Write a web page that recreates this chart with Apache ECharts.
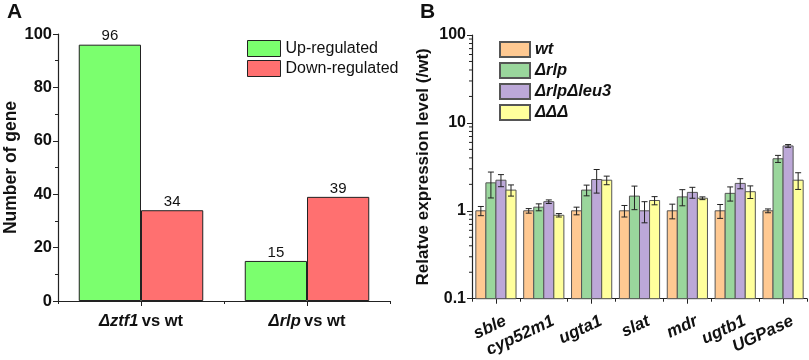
<!DOCTYPE html>
<html>
<head>
<meta charset="utf-8">
<script src="https://cdn.jsdelivr.net/npm/echarts@6/dist/echarts.min.js"></script>
<style>
  html, body { margin: 0; padding: 0; background: #fff; }
  #main { width: 809px; height: 360px; }
</style>
</head>
<body>
<div id="main"></div>
<script>
// panel A
var compA = ['Δztf1', 'Δrlp'];
var upA = [96, 15];
var downA = [34, 39];

// panel B
var genes = ['sble', 'cyp52m1', 'ugta1', 'slat', 'mdr', 'ugtb1', 'UGPase'];
var strainNames = ['wt', 'Δrlp', 'ΔrlpΔleu3', 'ΔΔΔ'];
var wtVal = [1.00, 1.00, 1.00, 1.00, 1.00, 1.00, 1.00];
var wtErr = [0.12, 0.06, 0.10, 0.15, 0.19, 0.18, 0.05];
var rlpVal = [2.08, 1.10, 1.72, 1.47, 1.44, 1.58, 3.91];
var rlpErr = [0.68, 0.10, 0.24, 0.44, 0.30, 0.29, 0.36];
var leuVal = [2.23, 1.27, 2.27, 1.00, 1.62, 2.05, 5.47];
var leuErr = [0.35, 0.06, 0.68, 0.27, 0.23, 0.27, 0.20];
var tripVal = [1.72, 0.89, 2.23, 1.31, 1.39, 1.65, 2.23];
var tripErr = [0.25, 0.04, 0.25, 0.14, 0.05, 0.27, 0.48];
var logMinor = [0.2, 0.3, 0.4, 0.5, 0.6, 0.7, 0.8, 0.9, 2, 3, 4, 5, 6, 7, 8, 9, 20, 30, 40, 50, 60, 70, 80, 90];

var FONT = '"Liberation Sans", Arial, sans-serif';
var colorsB = ['#ffc992', '#9ad69c', '#bca8d8', '#ffff9c'];
var valsB = [wtVal, rlpVal, leuVal, tripVal];
var errsB = [wtErr, rlpErr, leuErr, tripErr];
var gapB = 0.16;
var logBase = 0.1;

var myChart = echarts.init(document.getElementById('main'));

// offset of bar idx inside a category band (4 bars, no gap between them)
function barGeom(api, v, idx) {
    var band = api.coord([1, v])[0] - api.coord([0, v])[0];
    var bw = band * (1 - gapB) / 4;
    var off = -band * (1 - gapB) / 2 + bw * (idx + 0.5);
    return { bw: bw, off: off };
}

function barSeries(idx) {
    var data = [];
    for (var i = 0; i < genes.length; i++) {
        data.push([i, valsB[idx][i]]);
    }
    return {
        name: strainNames[idx],
        type: 'custom',
        xAxisIndex: 2,
        yAxisIndex: 1,
        z: 3,
        data: data,
        itemStyle: { color: colorsB[idx], borderColor: '#555', borderWidth: 1 },
        renderItem: function(params, api) {
            var c = api.value(0), v = api.value(1);
            var g = barGeom(api, v, idx);
            var top = api.coord([c, v]);
            var bot = api.coord([c, logBase]);
            return {
                type: 'rect',
                shape: { x: top[0] + g.off - g.bw / 2, y: top[1], width: g.bw, height: bot[1] - top[1] },
                style: { fill: colorsB[idx], stroke: '#555', lineWidth: 1 }
            };
        }
    };
}

function errorSeries(idx) {
    var data = [];
    for (var i = 0; i < genes.length; i++) {
        data.push([i, valsB[idx][i], errsB[idx][i]]);
    }
    return {
        type: 'custom',
        xAxisIndex: 2,
        yAxisIndex: 1,
        z: 5,
        silent: true,
        data: data,
        renderItem: function(params, api) {
            var c = api.value(0), v = api.value(1), e = api.value(2);
            var g = barGeom(api, v, idx);
            var hi = api.coord([c, v + e]);
            var lo = api.coord([c, v - e]);
            var x = hi[0] + g.off;
            var cap = 3;
            var st = { stroke: '#222', lineWidth: 1 };
            return {
                type: 'group',
                children: [
                    { type: 'line', shape: { x1: x, y1: hi[1], x2: x, y2: lo[1] }, style: st },
                    { type: 'line', shape: { x1: x - cap, y1: hi[1], x2: x + cap, y2: hi[1] }, style: st },
                    { type: 'line', shape: { x1: x - cap, y1: lo[1], x2: x + cap, y2: lo[1] }, style: st }
                ]
            };
        }
    };
}

var seriesList = [
    {
        name: 'Up-regulated',
        type: 'bar',
        xAxisIndex: 0,
        yAxisIndex: 0,
        data: upA,
        barGap: 0,
        barCategoryGap: '25%',
        itemStyle: { color: '#7bff6e', borderColor: '#222', borderWidth: 1 },
        label: { show: true, position: 'top', distance: 1, color: '#111', fontSize: 15, fontFamily: FONT }
    },
    {
        name: 'Down-regulated',
        type: 'bar',
        xAxisIndex: 0,
        yAxisIndex: 0,
        data: downA,
        barGap: 0,
        barCategoryGap: '25%',
        itemStyle: { color: '#ff7070', borderColor: '#222', borderWidth: 1 },
        label: { show: true, position: 'top', distance: 1, color: '#111', fontSize: 15, fontFamily: FONT }
    }
];

for (var s = 0; s < 4; s++) {
    seriesList.push(barSeries(s));
}
for (var s2 = 0; s2 < 4; s2++) {
    seriesList.push(errorSeries(s2));
}
// log minor ticks on the B y axis
seriesList.push({
    type: 'custom',
    xAxisIndex: 2,
    yAxisIndex: 1,
    silent: true,
    clip: false,
    data: logMinor.map(function(v) { return [0, v]; }),
    renderItem: function(params, api) {
        var p = api.coord([0, api.value(1)]);
        var x0 = params.coordSys.x;
        return { type: 'line', shape: { x1: x0 - 3, y1: p[1], x2: x0, y2: p[1] }, style: { stroke: '#222', lineWidth: 1 } };
    }
});

var axisLineStyle = { show: true, lineStyle: { color: '#222', width: 1.2 } };

var option = {
    animation: false,
    textStyle: { fontFamily: FONT },
    title: [
        { text: 'A', left: 7, top: 2, padding: 0, textStyle: { fontSize: 21, fontWeight: 'bold', color: '#111', fontFamily: FONT } },
        { text: 'B', left: 420, top: 2, padding: 0, textStyle: { fontSize: 21, fontWeight: 'bold', color: '#111', fontFamily: FONT } }
    ],
    legend: [
        {
            data: ['Up-regulated', 'Down-regulated'],
            orient: 'vertical',
            left: 247,
            top: 40,
            padding: 0,
            itemWidth: 33,
            itemHeight: 16,
            itemGap: 3,
            icon: 'rect',
            itemStyle: { borderColor: '#222', borderWidth: 1 },
            textStyle: { fontSize: 16, color: '#111', fontFamily: FONT }
        },
        {
            data: strainNames,
            orient: 'vertical',
            left: 499,
            top: 41,
            padding: 0,
            itemWidth: 30,
            itemHeight: 15,
            itemGap: 4,
            icon: 'rect',
            textStyle: { fontSize: 16.5, fontWeight: 'bold', fontStyle: 'italic', color: '#111', fontFamily: FONT }
        }
    ],
    grid: [
        { left: 58, top: 34, width: 332, height: 267 },
        { left: 472, top: 35, width: 335, height: 267 }
    ],
    xAxis: [
        {
            type: 'category',
            gridIndex: 0,
            position: 'bottom',
            data: compA,
            axisLine: axisLineStyle,
            axisTick: { show: true, length: 3, lineStyle: { color: '#222' } },
            axisLabel: {
                margin: 12,
                formatter: function(v) { return '{i|' + v + '} {n|vs wt}'; },
                rich: {
                    i: { fontSize: 16.5, fontWeight: 'bold', fontStyle: 'italic', color: '#111', fontFamily: FONT },
                    n: { fontSize: 16.5, fontWeight: 'bold', color: '#111', fontFamily: FONT }
                }
            }
        },
        {
            type: 'category',
            gridIndex: 0,
            position: 'bottom',
            offset: 0,
            data: compA,
            axisLine: { show: false },
            axisTick: { show: true, alignWithLabel: true, length: 5, lineStyle: { color: '#222' } },
            axisLabel: { show: false }
        },
        {
            type: 'category',
            gridIndex: 1,
            position: 'bottom',
            data: genes,
            axisLine: axisLineStyle,
            axisTick: { show: true, length: 3, lineStyle: { color: '#222' } },
            axisLabel: {
                rotate: 25,
                margin: 26,
                interval: 0,
                padding: [0, -10.5, 0, 0],
                fontSize: 17,
                fontWeight: 'bold',
                fontStyle: 'italic',
                color: '#111',
                fontFamily: FONT
            }
        },
        {
            type: 'category',
            gridIndex: 1,
            position: 'bottom',
            offset: 0,
            data: genes,
            axisLine: { show: false },
            axisTick: { show: true, alignWithLabel: true, length: 5, lineStyle: { color: '#222' } },
            axisLabel: { show: false }
        }
    ],
    yAxis: [
        {
            type: 'value',
            gridIndex: 0,
            min: 0,
            max: 100,
            interval: 20,
            name: 'Number of gene',
            nameLocation: 'middle',
            nameGap: 38,
            nameTextStyle: { fontSize: 17.5, fontWeight: 'bold', color: '#111', fontFamily: FONT },
            axisLine: axisLineStyle,
            axisTick: { show: true, length: 5, lineStyle: { color: '#222' } },
            minorTick: { show: true, splitNumber: 2, length: 3, lineStyle: { color: '#222' } },
            splitLine: { show: false },
            axisLabel: { fontSize: 16.5, fontWeight: 'bold', color: '#111', fontFamily: FONT, margin: 6 }
        },
        {
            type: 'log',
            gridIndex: 1,
            min: 0.1,
            max: 100,
            logBase: 10,
            name: 'Relatve expression level (/wt)',
            nameLocation: 'middle',
            nameGap: 40,
            nameTextStyle: { fontSize: 17, fontWeight: 'bold', color: '#111', fontFamily: FONT },
            axisLine: axisLineStyle,
            axisTick: { show: true, length: 5, lineStyle: { color: '#222' } },
            splitLine: { show: false },
            axisLabel: { fontSize: 16, fontWeight: 'bold', color: '#111', fontFamily: FONT, margin: 6 }
        }
    ],
    series: seriesList
};

myChart.setOption(option);
</script>
</body>
</html>
